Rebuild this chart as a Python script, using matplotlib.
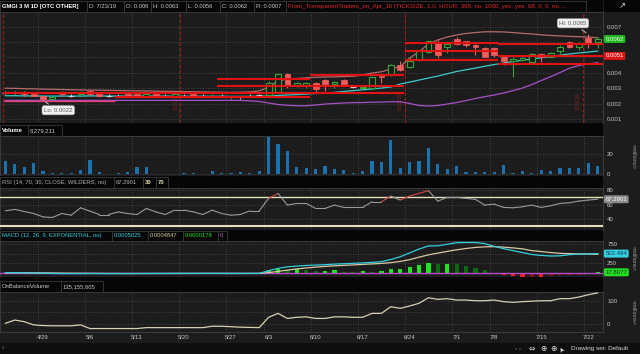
import numpy as np
import matplotlib.pyplot as plt
from matplotlib.patches import Rectangle

plt.rcParams['font.family'] = ['Liberation Sans', 'DejaVu Sans']

W, H = 640, 354

# 64 trading days, 4/23/19 .. 7/23/19 (bar index = position)
week_pos = [4, 9, 14, 19, 24, 28, 33, 38, 43, 48, 52, 57, 62]
week_labels = ['4/29', '5/6', '5/13', '5/20', '5/27', '6/3', '6/10', '6/17',
               '6/24', '7/1', '7/8', '7/15', '7/22']

opens = [.0027, .0027, .0027, .0026, .0025, .0023, .0027, .0025, .0026, .0028,
         .0026, .0025, .0025, .0026, .0026, .0025, .0026, .0025, .0025, .0025,
         .0026, .0025, .00245, .0025, .0024, .0024, .0025, .00256, .00256, .00276,
         .00392, .00315, .00321, .00334, .00354, .00328, .00354, .00308, .00302, .00302,
         .0038, .003925, .00451, .00438, .004835, .00536, .00594, .00568, .0062, .00607,
         .00581, .00562, .00562, .00503, .00477, .00483, .004705, .005225, .00503, .00542,
         .006005, .00568, .00626, .0060]
highs = [.0028, .0028, .0028, .0027, .0025, .0025, .0028, .0026, .0028, .0029,
         .0026, .0026, .0026, .0026, .0027, .0027, .0026, .0026, .0026, .0026,
         .0026, .0026, .0026, .0026, .0025, .0025, .0026, .0026, .0035, .0040,
         .0040, .0034, .0034, .0034, .0036, .00345, .0036, .0032, .0032, .0038,
         .0038, .0046, .00477, .0050, .0055, .0061, .00614, .0059, .0063, .0061,
         .0059, .0057, .0057, .0051, .0050, .0050, .0053, .0053, .00536, .0058,
         .0061, .0060, .0065, .0063]
lows = [.0026, .0026, .0025, .0025, .0022, .0023, .0025, .0024, .0026, .0025,
        .0024, .0024, .0025, .0024, .0025, .0025, .0025, .0024, .0025, .0024,
        .0025, .0024, .0024, .0024, .0023, .0023, .0024, .0025, .0025, .0027,
        .0030, .0031, .0030, .00262, .0028, .0030, .0032, .0030, .0030, .0030,
        .00334, .0038, .0041, .0043, .0048, .0053, .00496, .00529, .0058, .0057,
        .00516, .0050, .0050, .00451, .00373, .0048, .0047, .004705, .0050, .0052,
        .0056, .0055, .0056, .0056]
closes = [.0027, .0027, .0026, .0025, .0023, .0024, .0026, .0025, .0027, .0026,
          .0025, .0025, .0025, .0025, .0025, .0026, .0025, .0025, .0026, .0025,
          .0025, .0025, .0025, .0025, .00245, .0024, .0025, .00256, .00334, .00392,
          .00321, .00334, .00334, .00295, .00328, .0034, .00328, .00308, .0031, .00373,
          .00373, .00451, .004185, .0048, .00542, .00607, .00516, .005875, .00587, .00581,
          .00568, .00503, .00516, .00477, .0049, .00497, .005225, .00503, .00529, .00568,
          .00568, .00594, .00594, .0062]

upper_band = [.00300, .00299, .00297, .00296, .00294, .00293, .00292, .00290, .00289, .00288,
              .00287, .00286, .00285, .00284, .00283, .00282, .00281, .00280, .00279, .00278,
              .00277, .00276, .00275, .00274, .00273, .00274, .00276, .00282, .00308, .00347,
              .00360, .00363, .00368, .00371, .00373, .00374, .00376, .00378, .00386, .00399,
              .00407, .00425, .00441, .00496, .00537, .00588, .00614, .00633, .00646, .00656,
              .00662, .00667, .00667, .00666, .00662, .00657, .00653, .00647, .00643, .00640,
              .00637, .00635, .00633, .00628]
middle_band = [.00251, .00251, .00250, .00250, .00249, .00249, .00249, .00249, .00249, .00250,
               .00250, .00249, .00249, .00249, .00249, .00249, .00249, .00249, .00248, .00248,
               .00248, .00248, .00248, .00248, .00247, .00247, .00247, .00248, .00249, .00253,
               .00256, .00259, .00262, .00266, .00269, .00273, .00279, .00284, .00290, .00295,
               .00301, .00308, .00327, .00340, .00353, .00366, .00379, .00394, .00409, .00420,
               .00431, .00443, .00454, .00464, .00474, .00482, .00490, .00498, .00506, .00515,
               .00523, .00529, .00535, .00542]
lower_band = [.00221, .00221, .00221, .00221, .00221, .00221, .00221, .00221, .00221, .00221,
              .00221, .00221, .00221, .00221, .00221, .00221, .00221, .00221, .00221, .00221,
              .00221, .00221, .00221, .00221, .00221, .00221, .00218, .00214, .00204, .00194,
              .00189, .00186, .00186, .00191, .00197, .00201, .00204, .00206, .00207, .00209,
              .00210, .00212, .00212, .00201, .00188, .00184, .00188, .00197, .00207, .00220,
              .00233, .00245, .00256, .00269, .00285, .00301, .00324, .00350, .00375, .00402,
              .00430, .00448, .00459, .00466]

# drawn support / resistance levels and their spans (bar index)
level_price = [.00272, .00245, .00357, .00314, .00386, .00594, .00544, .00482, .00585, .0051, .00457]
level_start = [-0.3, 11.7, 22.5, 22.5, 32.4, 42.5, 42.5, 42.5, 52.4, 52.4, 52.4]
level_end = [42.4, 32.4, 32.4, 42.4, 42.4, 52.4, 52.4, 52.4, 63.6, 63.6, 63.6]
marker_pos = [-0.25, 18.6, 42.5, 61.4]
marker_text = ['', '5/17/19', '6/21/19', '7/19/19']

volume = [13, 9.7, 6.7, 10.7, 3, 1, 0.7, 0.7, 4, 14,
          1.7, 0.5, 1.3, 2, 6.7, 7.3, 0.3, 0.2, 0.2, 1.3,
          1.3, 0.3, 3.3, 1, 1, 2, 1.3, 3, 36.7, 29.7,
          23.3, 7.3, 5.7, 5, 8.3, 5, 4, 1, 3, 13.3,
          11.7, 34, 6, 11.7, 13.3, 26, 10, 5, 8, 2.3,
          2, 2, 2, 8.7, 1.3, 2.7, 1.3, 4, 3.3, 5.7,
          5.7, 5.7, 11, 8.279211]

rsi = [51.5, 53.4, 50.5, 47.8, 43.2, 42.3, 47.8, 45.5, 55.6, 51,
       46.4, 46.4, 50, 47.8, 46.4, 54.7, 50, 46.4, 52.4, 52.4,
       50, 46.4, 52.4, 47.8, 45.5, 46.4, 51.5, 51.5, 68.5, 75.4,
       59.3, 61.6, 61.6, 54.7, 54.7, 59.3, 56.1, 56.1, 56.1, 63.9,
       63.9, 71.7, 66.2, 71.7, 75.4, 79.1, 64.8, 69.9, 69.9, 68.5,
       67.1, 59.3, 60.7, 56.1, 55.6, 57, 59.3, 56.1, 58.4, 61.6,
       62.5, 64.8, 66.2, 67.2901]

macd = [10, 8, 5, 0, -8, -12, -15, -16, -15, -14,
        -15, -16, -16, -15, -14, -13, -12, -12, -11, -10,
        -10, -10, -10, -11, -12, -12, -11, -10, 60, 120,
        160, 180, 195, 205, 215, 230, 240, 250, 262, 275,
        293, 350, 420, 520, 620, 700, 705, 745, 785, 790,
        790, 760, 690, 630, 580, 530, 480, 455, 440, 445,
        475, 490, 495, 502.494]
macd_avg = [5, 6, 5, 4, 2, -1, -4, -6, -8, -9,
            -10, -11, -12, -13, -13, -13, -13, -13, -12, -12,
            -12, -11, -11, -11, -11, -11, -11, -11, 10, 40,
            75, 105, 130, 152, 170, 185, 198, 210, 222, 235,
            248, 268, 300, 345, 410, 470, 515, 560, 600, 635,
            662, 678, 682, 670, 650, 625, 580, 555, 530, 510,
            500, 494, 489, 484.7]
macd_diff = [4, 3, 1, -6, -12, -13, -10, -8, -6, -5,
             -5, -4, -4, -3, -2, -1, 0, 0, 1, 1,
             1, 0, 0, 0, -1, -1, 0, 1, 85, 110,
             80, 96, 70, 45, 50, 70, 26, 15, 40, 34,
             52, 111, 112, 155, 207, 267, 225, 241, 225, 190,
             137, 70, 5, -44, -70, -111, -104, -111, -78, -52,
             -44, -43, -20, 17.8077]

obv = [3, 17, 10, -4, -7, -8, -8, -8, -4, -20,
       -20, -20, -20, -20, -20, -16, -16, -16, -16, -16,
       -16, -16, -10, -10, -12, -14, -15, -16, 29, 46,
       24, 29, 31, 24, 24, 31, 31, 29, 29, 46,
       46, 75, 68, 78, 90, 114, 107, 110, 104, 104,
       101, 101, 104, 97, 94, 97, 99, 101, 101, 110,
       110, 117, 127, 135.155605]

BG = '#1c1c1c'
BAR_BG = '#060606'
GRID = '#4e4e4e'
TXT = '#c8c8c8'
UP, DN, DJ = '#35a535', '#f25c5c', '#d0d0d0'
HF = 4.2  # header font size

fig = plt.figure(figsize=(W / 100, H / 100), dpi=100, facecolor=BG)
x = np.arange(len(closes))


def panel(y0, y1):
    ax = fig.add_axes([0, 1 - y1 / H, 603 / W, (y1 - y0) / H])
    ax.set_facecolor(BG)
    ax.set_xlim(-0.574, 63.57)
    for s in ax.spines.values():
        s.set_color('#3a3a3a')
        s.set_linewidth(0.8)
    ax.yaxis.tick_right()
    ax.tick_params(axis='y', length=0, pad=3, labelsize=4.3, labelcolor=TXT)
    ax.tick_params(axis='x', length=0, labelbottom=False)
    ax.set_xticks([])
    for p in week_pos:
        ax.axvline(p - 0.5, color=GRID, lw=0.6, ls=(0, (1, 2)), zorder=0)
    ax.grid(axis='y', color=GRID, lw=0.6, ls=(0, (1, 2)))
    ax.set_axisbelow(True)
    return ax


def value_tag(ax, v, text, fc, tc):
    ax.text(1.004, v, text, transform=ax.get_yaxis_transform(), ha='left', va='center',
            fontsize=4.3, color=tc, clip_on=False, zorder=10,
            bbox=dict(boxstyle='round,pad=0.25', fc=fc, ec='none'))


# ---- price panel
ax_p = panel(12, 123)
ax_p.set_ylim(0.000739, 0.007956)
ax_p.set_yticks([0.001, 0.002, 0.003, 0.004, 0.005, 0.006, 0.007])
ax_p.set_yticklabels(['0.001', '0.002', '0.003', '0.004', '', '', '0.007'])
o, h, l, c = map(np.array, (opens, highs, lows, closes))
up, dn, dj = c > o, c < o, c == o
for m in marker_pos:
    ax_p.axvline(m, color='#9a1c1c', lw=0.8, ls=(0, (3, 2)), zorder=1)
for m, t in zip(marker_pos, marker_text):
    ax_p.text(m - 0.2, 0.0016, t, rotation=90, ha='right', va='bottom',
              fontsize=3.8, color='#8a2020', zorder=1)
ax_p.plot(x, upper_band, color='#b56b6b', lw=0.9, zorder=3)
ax_p.plot(x, middle_band, color='#3ccccc', lw=0.9, zorder=3)
ax_p.plot(x, lower_band, color='#a852c8', lw=0.9, zorder=3)
ax_p.vlines(x[up], l[up], h[up], color=UP, lw=0.8, zorder=4)
ax_p.vlines(x[dn], l[dn], h[dn], color=DN, lw=0.8, zorder=4)
ax_p.vlines(x[dj], l[dj], h[dj], color=DJ, lw=0.7, zorder=4)
ax_p.bar(x[up], (c - o)[up], bottom=o[up], width=0.62, facecolor=BG,
         edgecolor=UP, lw=0.8, zorder=5)
ax_p.bar(x[dn], (o - c)[dn], bottom=c[dn], width=0.62, facecolor=DN,
         edgecolor=DN, lw=0.5, zorder=5)
ax_p.hlines(c[dj], x[dj] - 0.31, x[dj] + 0.31, color=DJ, lw=0.8, zorder=5)
ax_p.hlines(level_price, level_start, level_end, color='#e01212', lw=1.5, zorder=6)
ax_p.hlines(0.00217, -0.3, 11.7, color='#e0406e', lw=1.0, zorder=6)
value_tag(ax_p, closes[-1], '0.0062', '#1fb81f', 'white')
value_tag(ax_p, 0.0051, '0.0051', '#e01515', 'white')
hi_i = int(np.argmax(highs))
lo_i = int(np.argmin(lows))
ax_p.annotate(f'Hi: {highs[hi_i]:.4f}', xy=(hi_i, highs[hi_i]), xytext=(-11, 8),
              textcoords='offset points', ha='center', va='center', fontsize=4.3,
              color='#555555', zorder=12,
              bbox=dict(boxstyle='round,pad=0.35', fc='#f0f0f0', ec='#aaaaaa', lw=0.4),
              arrowprops=dict(arrowstyle='-', color='#dddddd', lw=0.6))
ax_p.annotate(f'Lo: {lows[lo_i]:.4f}', xy=(lo_i, lows[lo_i]), xytext=(11, -7),
              textcoords='offset points', ha='center', va='center', fontsize=4.3,
              color='#555555', zorder=12,
              bbox=dict(boxstyle='round,pad=0.35', fc='#f0f0f0', ec='#aaaaaa', lw=0.4),
              arrowprops=dict(arrowstyle='-', color='#dddddd', lw=0.6))

# ---- volume
ax_v = panel(136, 176)
ax_v.set_ylim(-2, 38)
ax_v.set_yticks([0, 20])
ax_v.bar(x, volume, width=0.34, color='#1a72b0', zorder=3)

# ---- RSI
ax_r = panel(188, 230)
ax_r.set_ylim(25.2, 82.7)
ax_r.set_yticks([40, 60, 80])
ax_r.axhline(70, color='#e6dfbd', lw=1.0, zorder=3)
ax_r.axhline(30, color='#e6dfbd', lw=1.5, zorder=3)
for k in range(1, len(rsi)):
    ax_r.plot([k - 1, k], rsi[k - 1:k + 1], color='#d04a4a' if rsi[k] > 70 else '#9a9a9a',
              lw=0.8, zorder=4, solid_capstyle='round')
value_tag(ax_r, rsi[-1], '67.2901', '#8a8a8a', 'white')

# ---- MACD
ax_m = panel(241, 277)
ax_m.set_ylim(-104, 829)
ax_m.set_yticks([250, 500, 750])
ax_m.set_yticklabels(['250', '', '750'])
hist_cols = []
for k, v in enumerate(macd_diff):
    prev = macd_diff[k - 1] if k else 0
    if v >= 0:
        hist_cols.append('#1ee61e' if v > prev else '#0e6a0e')
    else:
        hist_cols.append('#ff1c1c' if v < prev else '#8a0c0c')
ax_m.bar(x, macd_diff, width=0.45, color=hist_cols, zorder=3)
ax_m.axhline(0, color='#b54ac6', lw=1.0, zorder=4)
ax_m.plot(x, macd_avg, color='#d8c9a2', lw=0.9, zorder=5)
ax_m.plot(x, macd, color='#33cfdf', lw=0.9, zorder=5)
value_tag(ax_m, macd[-1], '502.494', '#35d0e0', '#163a55')
value_tag(ax_m, macd_diff[-1], '17.8077', '#22dd22', '#0a3a0a')

# ---- OBV
ax_o = panel(292, 332)
ax_o.set_ylim(-35, 139)
ax_o.set_yticks([0, 100])
ax_o.set_yticks([50], minor=True)
ax_o.grid(axis='y', which='minor', color=GRID, lw=0.6, ls=(0, (1, 2)))
ax_o.plot(x, obv, color='#d8d0b0', lw=0.9, zorder=4)
ax_o.set_xticks(week_pos)
ax_o.set_xticklabels(week_labels)
ax_o.tick_params(axis='x', length=0, pad=2, labelsize=4.3, labelcolor=TXT, labelbottom=True)
ax_o.tick_params(axis='y', which='minor', length=0)

# ---- header strips and frame text
ov = fig.add_axes([0, 0, 1, 1])
ov.set_xlim(0, W)
ov.set_ylim(H, 0)
ov.axis('off')
ov.patch.set_alpha(0)


def strip(y0, y1):
    ov.add_patch(Rectangle((0, y0), 603, y1 - y0, fc=BAR_BG, ec='none'))


def cell(x0, x1, y0, y1, text, color, bold=False, size=HF):
    ov.add_patch(Rectangle((x0, y0 + 0.5), x1 - x0, y1 - y0 - 1, fc=BAR_BG, ec='#3a3a3a', lw=0.6))
    ov.text(x0 + 2, (y0 + y1) / 2 + 0.3, text, color=color, fontsize=size, ha='left', va='center',
            fontweight='bold' if bold else 'normal')


strip(0, 12)
cell(0, 87, 0, 12, 'GMGI 3 M 1D [OTC OTHER]', 'white', bold=True)
cell(87, 124, 0, 12, 'D: 7/23/19', TXT)
cell(124, 151, 0, 12, 'O: 0.006', TXT)
cell(151, 186, 0, 12, 'H: 0.0063', TXT)
cell(186, 220, 0, 12, 'L: 0.0056', TXT)
cell(220, 254, 0, 12, 'C: 0.0062', TXT)
cell(254, 286, 0, 12, 'R: 0.0007', TXT)
cell(286, 586, 0, 12, 'From_TransparentTraders_on_Apr_16 (TICKSIZE, 1.0, HOUR, 365, no, 1000, '
     'yes, yes, 68, 0, 0, no,...', '#e02a2a', size=4.4)
ov.add_patch(Rectangle((604, 0), 36, 12, fc=BAR_BG, ec='none'))
ov.text(622, 6, '↗', color='#e0e0e0', fontsize=6, ha='center', va='center', family='DejaVu Sans')

strip(123, 136)
cell(0, 28, 124, 136, 'Volume', 'white', bold=True)
cell(28, 62, 124, 136, '8,279,211', TXT)

strip(176, 188)
cell(0, 114, 176, 188, 'RSI (14, 70, 30, CLOSE, WILDERS, no)', '#b0b0b0')
cell(114, 143, 176, 188, '67.2901', '#b0b0b0')
cell(143, 156, 176, 188, '30', '#e6dcb4', bold=True)
cell(156, 168, 176, 188, '70', '#e6dcb4', bold=True)

strip(230, 241)
cell(0, 112, 230, 241, 'MACD (12, 26, 9, EXPONENTIAL, no)', '#33cfdf')
cell(112, 148, 230, 241, '0.0005025', '#33cfdf')
cell(148, 183, 230, 241, '0.0004847', '#d8c9a2')
cell(183, 218, 230, 241, '0.0000178', '#1ee61e')
cell(218, 227, 230, 241, '0', '#c060d0')

strip(277, 292)
cell(0, 61, 280, 292, 'OnBalanceVolume', TXT)
cell(61, 103, 280, 292, '135,155,605', TXT)

for yc in (156, 259, 312):
    ov.text(633, yc, '<millions>', rotation=270, color='#a0a0a0', fontsize=4.0,
            ha='center', va='center')

ov.add_patch(Rectangle((0, 343), W, 11, fc='#0e0e0e', ec='none'))
ov.text(2, 348.5, '‹', color='#888888', fontsize=5, ha='left', va='center')
ov.text(518, 348.5, '‹ ›', color='#888888', fontsize=4.5, ha='center', va='center')
ov.text(532, 348.5, '⇔', color='#e0e0e0', fontsize=5.5, ha='center', va='center', family='DejaVu Sans')
ov.text(543, 348.5, '⊕', color='#e0e0e0', fontsize=5.5, ha='center', va='center', family='DejaVu Sans')
ov.text(553, 348.5, '⊕', color='#e0e0e0', fontsize=5.5, ha='center', va='center', family='DejaVu Sans')
ov.text(562, 348.5, '➤', color='#e0e0e0', fontsize=5, ha='center', va='center',
        family='DejaVu Sans', rotation=120)
ov.text(571, 348.5, 'Drawing set: Default', color='#d8d8d8', fontsize=4.6, ha='left', va='center')

fig.savefig('out.png', dpi=100, facecolor=BG)
